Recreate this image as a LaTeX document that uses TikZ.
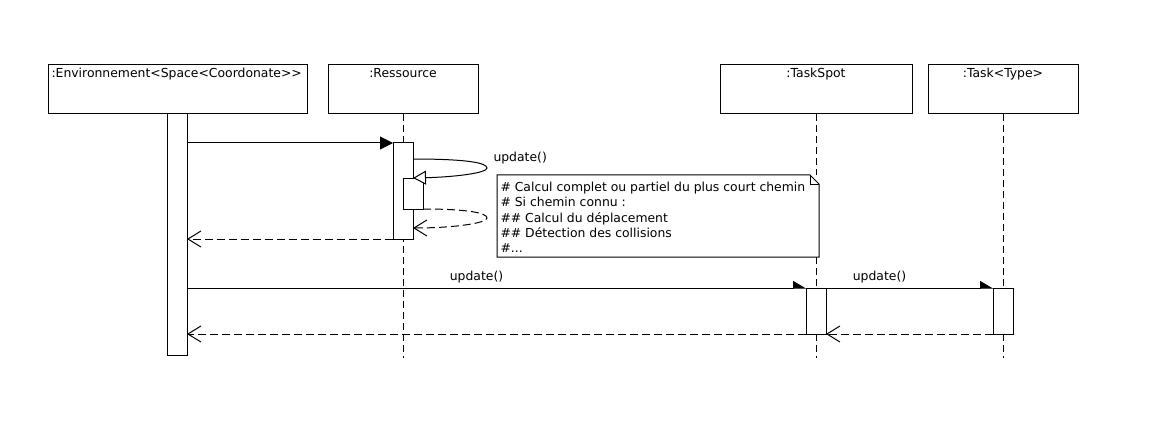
\documentclass[tikz,border=0pt]{standalone}
\usepackage{fontspec}
\setmainfont{DejaVu Sans}
\usetikzlibrary{arrows.meta}
\begin{document}
\begin{tikzpicture}[x=1pt,y=-1pt,line width=1pt,
  txt/.style={inner sep=0pt,font=\fontsize{12.4}{15.3}\selectfont},
  headbox/.style={draw,fill=white,inner sep=0pt,outer sep=0pt,minimum height=49pt},
  actbar/.style={draw,fill=white,inner sep=0pt,outer sep=0pt,minimum width=20pt},
  lifeline/.style={dash pattern=on 7pt off 4pt},
  callfull/.style={-{Triangle[length=13pt,width=13pt]}},
  callhalf/.style={-{Triangle[length=12pt,width=14pt,left]}},
  callopen/.style={-{Triangle[open,length=13pt,width=14pt,fill=white]}},
  reply/.style={dash pattern=on 8pt off 4pt,-{Straight Barb[length=13pt,width=16pt]}}]
\fill[white] (0,0) rectangle (1158,422);
\useasboundingbox (0,0) rectangle (1158,422);
% heads
\node[headbox,minimum width=259pt] (env) at (177.5,89.5) {};
\node[headbox,minimum width=150pt] (res) at (403,89.5) {};
\node[headbox,minimum width=192pt] (ts) at (816,89.5) {};
\node[headbox,minimum width=150pt] (tk) at (1003,89.5) {};
\node[txt,anchor=base west] (envT) at (51,78) {:Environnement<Space<Coordonate>{}>};
\node[txt,anchor=base] (resT) at (403,78) {:Ressource};
\node[txt,anchor=base] (tsT) at (816,78) {:TaskSpot};
\node[txt,anchor=base] (tkT) at (1003,78) {:Task<Type>};
% lifelines
\coordinate (resEnd) at (403,358);
\coordinate (tsEnd) at (816,358);
\coordinate (tkEnd) at (1003,358);
\draw[lifeline] (res.south) -- (resEnd);
\draw[lifeline] (ts.south) -- (tsEnd);
\draw[lifeline] (tk.south) -- (tkEnd);
% activation bars
\node[actbar,minimum height=241pt] (envA) at (177,234.5) {};
\node[actbar,minimum height=96pt] (resA) at (403,191) {};
\node[actbar,minimum height=30pt] (resN) at (413,194) {};
% message 1
\draw[callfull] (envA.east |- resA.north) -- (resA.north west);
% self call
\draw[callopen] ([yshift=-16pt]resA.north east) .. controls (468,159) and (487,163) .. (487,168)
   .. controls (487,173) and (455,177) .. ([yshift=1pt]resN.north);
\node[txt,anchor=base west] (selfL) at (493,161) {update()};
\draw[reply] (resN.south east) .. controls (468,209) and (487,213) .. (487,218)
   .. controls (487,223) and (455,228) .. ([yshift=-19pt]resN.south);
\draw[reply] (resA.south west) -- (envA.east |- resA.south);
% note
\node[txt,fill=white,anchor=north west,minimum width=321pt,minimum height=81pt] (note) at (497,175) {};
\draw[fill=white] (note.north west) -- ([xshift=-9pt]note.north east) -- ([yshift=-9pt]note.north east)
   -- (note.south east) -- (note.south west) -- cycle;
\draw[line width=0.8pt] ([xshift=-9pt]note.north east) -- ([xshift=-9pt,yshift=-9pt]note.north east) -- ([yshift=-9pt]note.north east);
\node[txt,anchor=north west,align=left] (noteT) at (500,181.6) {\# Calcul complet ou partiel du plus court chemin\\
\# Si chemin connu :\\
\#\# Calcul du déplacement\\
\#\# Détection des collisions\\
\#...};
% second exchange
\node[actbar,minimum height=46pt] (tsA) at (816,311) {};
\node[actbar,minimum height=46pt] (tkA) at (1003,311) {};
\draw[callhalf] (envA.east |- tsA.north) -- (tsA.north west);
\node[txt,anchor=base] (m2L) at (476.5,280) {update()};
\draw[callhalf] (tsA.north east) -- (tkA.north west);
\node[txt,anchor=base] (m3L) at (879.5,280) {update()};
\draw[reply] (tkA.south west) -- (tsA.south east);
\draw[reply] (tsA.south west) -- (envA.east |- tsA.south);
\end{tikzpicture}
\end{document}
